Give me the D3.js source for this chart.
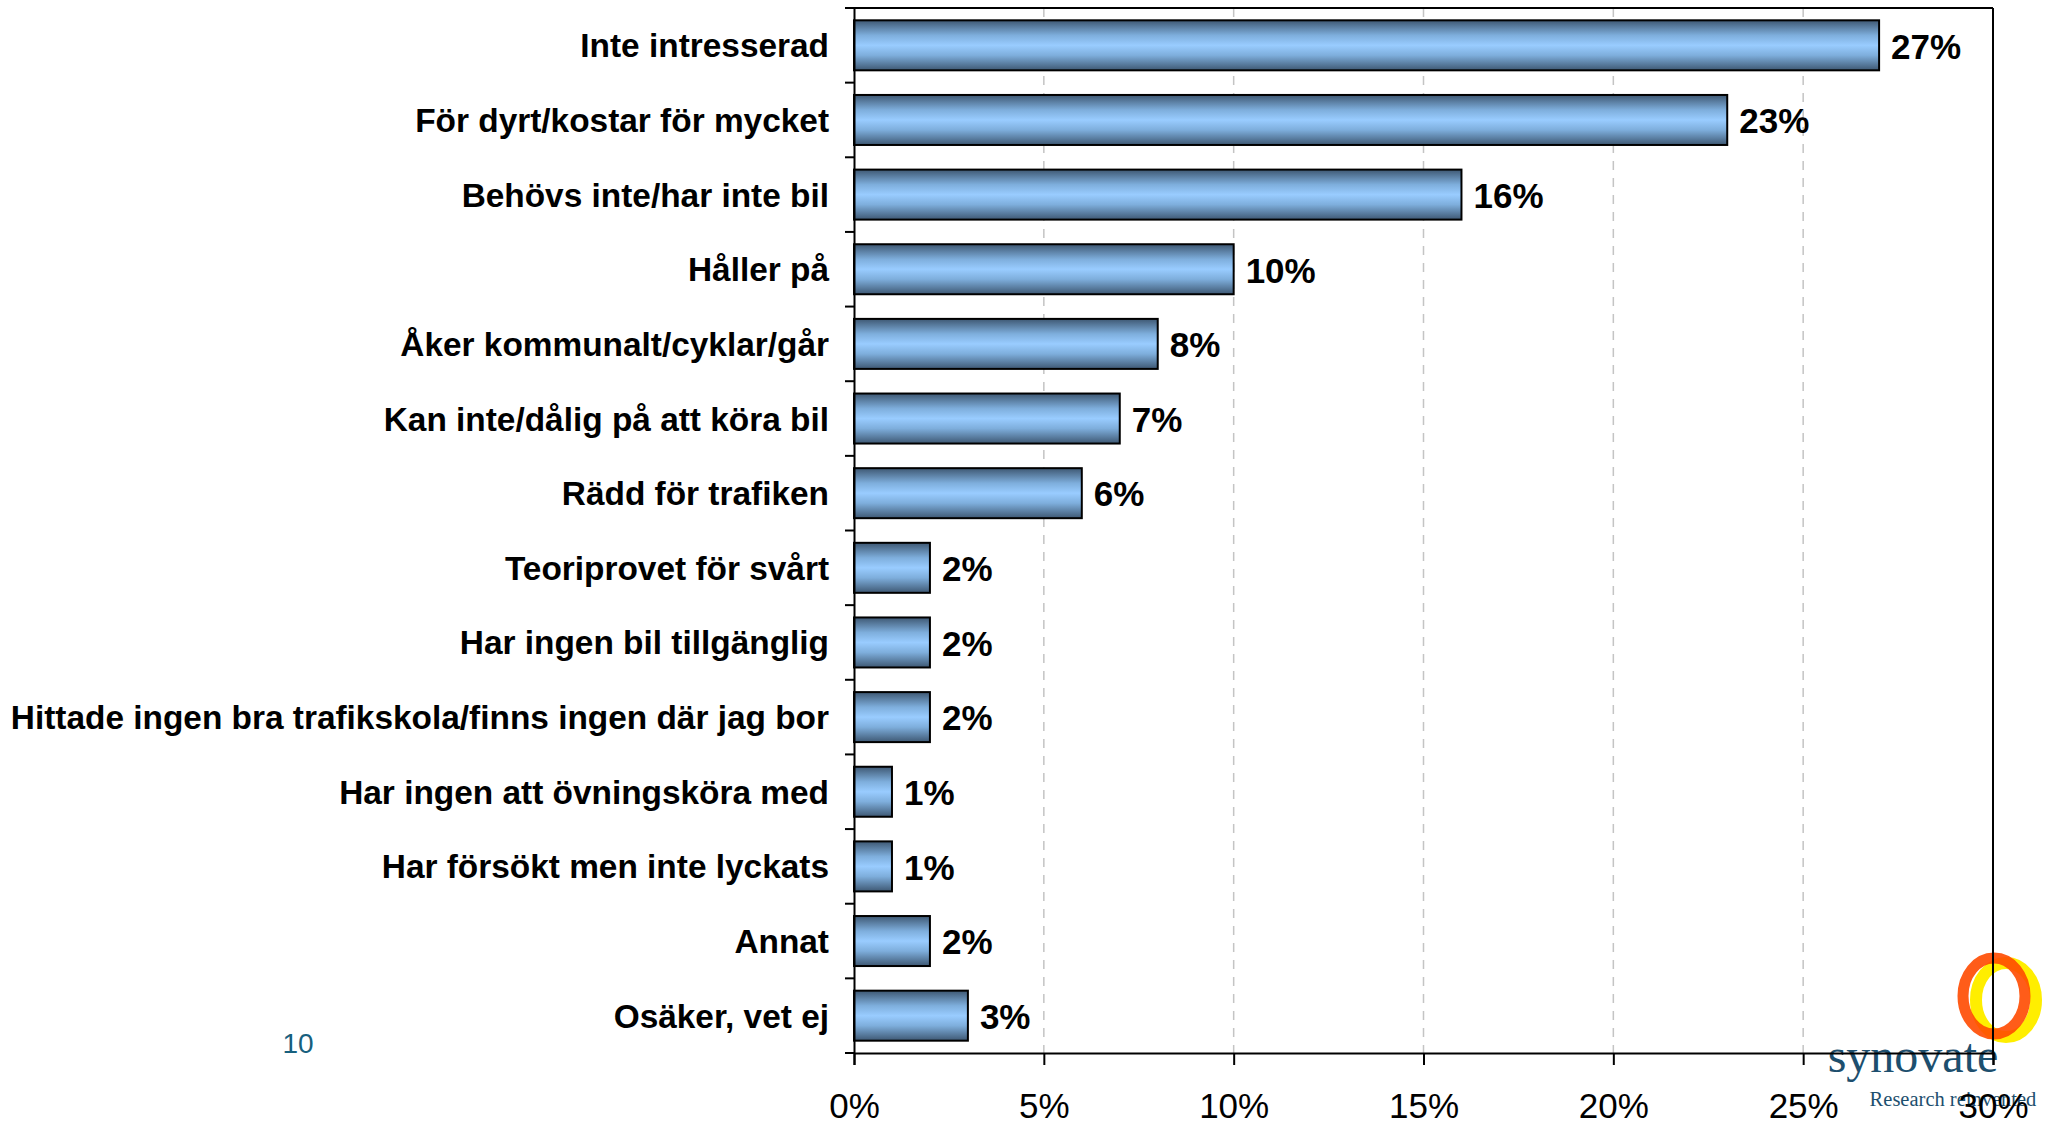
<!DOCTYPE html>
<html>
<head>
<meta charset="utf-8">
<script src="https://cdn.jsdelivr.net/npm/d3@7"></script>
<style>
  html, body { margin: 0; padding: 0; background: #fff; }
  svg { display: block; }
</style>
</head>
<body>
<svg id="chart" width="2051" height="1122"></svg>
<script>
const categories = [
  "Inte intresserad",
  "För dyrt/kostar för mycket",
  "Behövs inte/har inte bil",
  "Håller på",
  "Åker kommunalt/cyklar/går",
  "Kan inte/dålig på att köra bil",
  "Rädd för trafiken",
  "Teoriprovet för svårt",
  "Har ingen bil tillgänglig",
  "Hittade ingen bra trafikskola/finns ingen där jag bor",
  "Har ingen att övningsköra med",
  "Har försökt men inte lyckats",
  "Annat",
  "Osäker, vet ej"
];
const values = [27, 23, 16, 10, 8, 7, 6, 2, 2, 2, 1, 1, 2, 3];
const xTicks = [0, 5, 10, 15, 20, 25, 30];
const pageNumber = "10";
const logoName = "synovate";
const logoTagline = "Research reinvented";

(function () {
const svg = d3.select("#chart");
const mLeft = 854, mRight = 1993, mTop = 8, mBottom = 1053;

// ---- logo (drawn behind the chart) ----
const logo = svg.append("g");
logo.append("ellipse").attr("cx", 2006).attr("cy", 1000).attr("rx", 30).attr("ry", 37)
  .attr("fill", "none").attr("stroke", "#ffee00").attr("stroke-width", 12);
logo.append("ellipse").attr("cx", 1994).attr("cy", 996).attr("rx", 31).attr("ry", 38)
  .attr("fill", "none").attr("stroke", "#ff4a00").attr("stroke-width", 11).attr("opacity", 0.9);
logo.append("text").attr("x", 1913).attr("y", 1072).attr("text-anchor", "middle")
  .style("font-family", "'Liberation Serif', 'DejaVu Serif', serif").style("font-size", "48px")
  .attr("fill", "#1d4f6e").text(logoName);
logo.append("text").attr("x", 1953).attr("y", 1106).attr("text-anchor", "middle")
  .style("font-family", "'Liberation Serif', 'DejaVu Serif', serif").style("font-size", "20.5px")
  .attr("fill", "#1d4f6e").text(logoTagline);

// page number
svg.append("text").attr("x", 298).attr("y", 1053).attr("text-anchor", "middle")
  .style("font-family", "'Liberation Sans', Arial, sans-serif").style("font-size", "28px")
  .attr("fill", "#17607e").text(pageNumber);

// ---- scales ----
const x = d3.scaleLinear().domain([0, 30]).range([mLeft, mRight]);
const y = d3.scaleBand().domain(categories).range([mTop, mBottom])
  .paddingInner(0.33).paddingOuter(0.165);

// gradient
const defs = svg.append("defs");
const grad = defs.append("linearGradient").attr("id", "barGrad")
  .attr("x1", 0).attr("y1", 0).attr("x2", 0).attr("y2", 1);
[[0, "#3e5873"], [0.3, "#7eaedc"], [0.5, "#99ccff"], [0.7, "#7eaedc"], [1, "#3e5873"]]
  .forEach(([o, c]) => grad.append("stop").attr("offset", o).attr("stop-color", c));

// gridlines
svg.append("g").selectAll("line").data(xTicks.filter(t => t > 0 && t < 30)).join("line")
  .attr("x1", d => x(d)).attr("x2", d => x(d))
  .attr("y1", mTop).attr("y2", mBottom)
  .attr("stroke", "#c4c4c4").attr("stroke-width", 1.5).attr("stroke-dasharray", "9,8");

// border top/right
svg.append("line").attr("x1", mLeft).attr("x2", mRight).attr("y1", mTop).attr("y2", mTop)
  .attr("stroke", "#000").attr("stroke-width", 2);
svg.append("line").attr("x1", mRight).attr("x2", mRight).attr("y1", mTop).attr("y2", mBottom)
  .attr("stroke", "#000").attr("stroke-width", 2);

// bars
svg.append("g").selectAll("rect").data(categories).join("rect")
  .attr("x", x(0))
  .attr("y", d => y(d))
  .attr("width", (d, i) => x(values[i]) - x(0))
  .attr("height", y.bandwidth())
  .attr("fill", "url(#barGrad)")
  .attr("stroke", "#000").attr("stroke-width", 2);

// value labels
svg.append("g").selectAll("text").data(categories).join("text")
  .attr("x", (d, i) => x(values[i]) + 12)
  .attr("y", d => y(d) + y.bandwidth() / 2)
  .attr("dy", "0.38em")
  .style("font-family", "'Liberation Sans', Arial, sans-serif")
  .style("font-size", "35px").style("font-weight", "bold")
  .attr("fill", "#000")
  .text((d, i) => values[i] + "%");

// y axis: labels, line, ticks at band boundaries
const yAxis = svg.append("g").attr("transform", `translate(${mLeft},0)`)
  .call(d3.axisLeft(y).tickSize(0).tickPadding(25));
yAxis.select(".domain").attr("stroke", "#000").attr("stroke-width", 2);
yAxis.selectAll("text")
  .attr("dy", "0.36em")
  .style("font-family", "'Liberation Sans', Arial, sans-serif")
  .style("font-size", "33.4px").style("font-weight", "bold").attr("fill", "#000");
const boundaries = categories.map(c => y(c) - y.step() * y.paddingOuter()).concat([mBottom]);
svg.append("g").selectAll("line").data(boundaries).join("line")
  .attr("x1", mLeft - 9).attr("x2", mLeft)
  .attr("y1", d => d).attr("y2", d => d)
  .attr("stroke", "#000").attr("stroke-width", 2);

// x axis
const xAxis = svg.append("g").attr("transform", `translate(0,${mBottom})`)
  .call(d3.axisBottom(x).tickValues(xTicks).tickFormat(d => d + "%").tickSize(12).tickPadding(28));
xAxis.select(".domain").attr("stroke", "#000").attr("stroke-width", 2);
xAxis.selectAll(".tick line").attr("stroke", "#000").attr("stroke-width", 2);
xAxis.selectAll("text")
  .style("font-family", "'Liberation Sans', Arial, sans-serif")
  .style("font-size", "35px").attr("fill", "#000");
})();
</script>
</body>
</html>
